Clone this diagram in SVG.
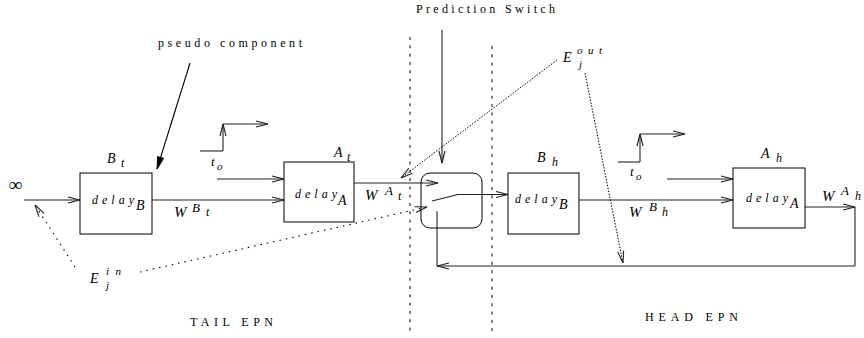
<svg xmlns="http://www.w3.org/2000/svg" width="864" height="338" viewBox="0 0 864 338">
<defs>
<style>
.box{fill:none;stroke:#000;stroke-width:1}
.ln{fill:none;stroke:#222;stroke-width:1.1}
.arr{fill:none;stroke:#222;stroke-width:1.1;marker-end:url(#ah)}
.dotw{fill:none;stroke:#000;stroke-width:1.1;stroke-dasharray:1.5 5;marker-end:url(#ah)}
.dotn{fill:none;stroke:#000;stroke-width:1;stroke-dasharray:1.5 1.5;marker-end:url(#ah)}
.dash{fill:none;stroke:#000;stroke-width:1;stroke-dasharray:3 5.3}
.m{font-family:"Liberation Serif","DejaVu Serif",serif;font-style:italic;fill:#000}
.r{font-family:"Liberation Serif","DejaVu Serif",serif;fill:#000;font-size:12px}
</style>
<marker id="ah" markerUnits="userSpaceOnUse" markerWidth="14" markerHeight="8" viewBox="0 0 14 8" refX="13" refY="4" orient="auto">
<path d="M1,1 L13,4 L1,7" fill="none" stroke="#222" stroke-width="1.1"/>
</marker>
<marker id="fh" markerUnits="userSpaceOnUse" markerWidth="14" markerHeight="8" viewBox="0 0 14 8" refX="13" refY="4" orient="auto">
<path d="M1,1 L13,4 L1,7 z" fill="#000" stroke="#000" stroke-width="1"/>
</marker>
</defs>

<g id="connectors">
<line class="dash" x1="410" y1="37" x2="410" y2="332"/>
<line class="dash" x1="492" y1="46" x2="492" y2="332"/>
<line class="arr" x1="24" y1="200" x2="80" y2="200"/>
<line class="arr" x1="152" y1="200" x2="284" y2="200"/>
<line class="arr" x1="217" y1="179" x2="284" y2="179"/>
<line class="ln" x1="200" y1="151" x2="223" y2="151"/>
<line class="arr" x1="223" y1="151" x2="223" y2="124"/>
<line class="arr" x1="223" y1="124" x2="268" y2="124"/>
<line class="arr" x1="354" y1="183" x2="438" y2="183"/>
<line class="ln" x1="432" y1="201" x2="458" y2="194.5"/>
<line class="arr" x1="458" y1="194.5" x2="508" y2="194.5"/>
<line class="arr" x1="579" y1="200" x2="733" y2="200"/>
<line class="arr" x1="667" y1="179" x2="733" y2="179"/>
<line class="ln" x1="618" y1="162" x2="640" y2="162"/>
<line class="arr" x1="640" y1="162" x2="640" y2="134"/>
<line class="arr" x1="640" y1="134" x2="685" y2="134"/>
<line class="arr" x1="805" y1="207" x2="855" y2="207"/>
<line class="ln" x1="855" y1="207" x2="855" y2="266"/>
<line class="arr" x1="855" y1="266" x2="437" y2="266"/>
<line class="ln" x1="437" y1="266" x2="437" y2="211"/>
<line class="arr" x1="442" y1="30" x2="442" y2="163"/>
<line fill="none" stroke="#000" stroke-width="1.1" marker-end="url(#fh)" x1="190" y1="63" x2="157" y2="169"/>
<line class="dotn" x1="557" y1="60" x2="401" y2="178"/>
<line class="dotn" x1="585" y1="73" x2="623" y2="263"/>
<line class="dotw" x1="140" y1="272" x2="427" y2="207"/>
<line class="dotw" x1="75" y1="267" x2="35" y2="205"/>
</g>

<g id="node-Bt">
<rect class="box" x="80" y="173" width="72" height="61"/>
<text class="m" x="107" y="163" font-size="14">B</text>
<text class="m" x="121" y="167" font-size="12">t</text>
<text class="m" x="92" y="204" font-size="12" textLength="42" lengthAdjust="spacing">delay</text>
<text class="m" x="136" y="210" font-size="14">B</text>
</g>

<g id="node-At">
<rect class="box" x="284" y="162" width="70" height="60"/>
<text class="m" x="334" y="157" font-size="14">A</text>
<text class="m" x="347" y="161" font-size="12">t</text>
<text class="m" x="295" y="198" font-size="12" textLength="42" lengthAdjust="spacing">delay</text>
<text class="m" x="338" y="205" font-size="14">A</text>
</g>

<g id="node-switch">
<rect class="box" x="421" y="173" width="61" height="55" rx="9" ry="9"/>
</g>

<g id="node-Bh">
<rect class="box" x="508" y="173" width="71" height="61"/>
<text class="m" x="537" y="162" font-size="14">B</text>
<text class="m" x="552" y="166" font-size="12">h</text>
<text class="m" x="515" y="203" font-size="12" textLength="42" lengthAdjust="spacing">delay</text>
<text class="m" x="559" y="209" font-size="14">B</text>
</g>

<g id="node-Ah">
<rect class="box" x="733" y="168" width="72" height="60"/>
<text class="m" x="761" y="158" font-size="14">A</text>
<text class="m" x="776" y="162" font-size="12">h</text>
<text class="m" x="746" y="202" font-size="12" textLength="42" lengthAdjust="spacing">delay</text>
<text class="m" x="790" y="208" font-size="14">A</text>
</g>

<g id="labels">
<text class="m" x="9" y="191" font-size="19" font-style="normal">∞</text>
<text class="r" x="158" y="47" textLength="144" lengthAdjust="spacing">pseudo component</text>
<text class="r" x="416" y="13" textLength="139" lengthAdjust="spacing">Prediction Switch</text>
<text class="r" x="190" y="326" textLength="83" lengthAdjust="spacing">TAIL EPN</text>
<text class="r" x="645" y="321" textLength="93" lengthAdjust="spacing">HEAD EPN</text>

<text class="m" x="211" y="166" font-size="13">t</text>
<text class="m" x="217" y="170" font-size="11">o</text>
<text class="m" x="630" y="176" font-size="13">t</text>
<text class="m" x="636" y="180" font-size="11">o</text>

<text class="m" x="174" y="217" font-size="15">W</text>
<text class="m" x="192" y="212" font-size="13">B</text>
<text class="m" x="206" y="216" font-size="12">t</text>

<text class="m" x="365" y="200" font-size="15">W</text>
<text class="m" x="385" y="195" font-size="13">A</text>
<text class="m" x="398" y="200" font-size="12">t</text>

<text class="m" x="629" y="217" font-size="15">W</text>
<text class="m" x="649" y="211" font-size="13">B</text>
<text class="m" x="662" y="216" font-size="12">h</text>

<text class="m" x="822" y="201" font-size="15">W</text>
<text class="m" x="841" y="195" font-size="13">A</text>
<text class="m" x="855" y="200" font-size="12">h</text>

<text class="m" x="90" y="283" font-size="14">E</text>
<text class="m" x="106" y="275" font-size="11" textLength="15" lengthAdjust="spacing">in</text>
<text class="m" x="106" y="289" font-size="11">j</text>

<text class="m" x="563" y="62" font-size="14">E</text>
<text class="m" x="577" y="54" font-size="11" textLength="25" lengthAdjust="spacing">out</text>
<text class="m" x="579" y="68" font-size="11">j</text>
</g>
</svg>
